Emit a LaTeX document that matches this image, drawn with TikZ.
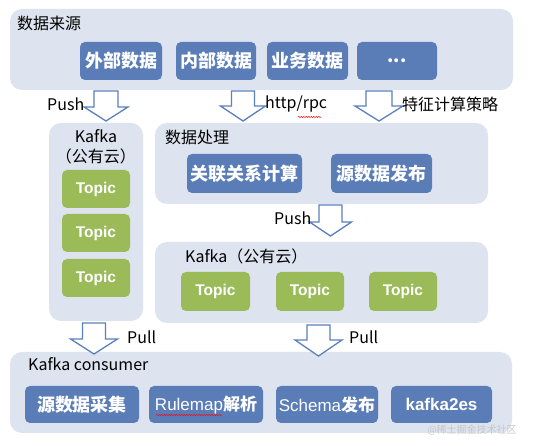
\documentclass[tikz,border=0pt]{standalone}
\usepackage{fontspec}
\setmainfont{Noto Sans CJK SC}
\newfontfamily\arialf{Liberation Sans}
\usetikzlibrary{decorations.pathmorphing}
\definecolor{panelc}{HTML}{DDE3EF}
\definecolor{boxc}{HTML}{5A7DB8}
\definecolor{greenc}{HTML}{9BBB59}
\definecolor{arrc}{HTML}{5B80BD}
\tikzset{
  panel/.style={fill=panelc, rounded corners=12pt, inner sep=0pt},
  bbox/.style={fill=boxc, rounded corners=5pt, inner sep=0pt, text=white, font=\fontsize{18}{18}\selectfont\bfseries},
  lbox/.style={fill=boxc, rounded corners=5pt, inner sep=0pt, text=white, font=\fontsize{17}{17}\selectfont},
  gbox/.style={fill=greenc, rounded corners=5pt, inner sep=0pt, text=white, font=\fontsize{15.5}{15.5}\selectfont\arialf\bfseries},
  lbl/.style={font=\fontsize{16}{16}\selectfont, inner sep=0pt, anchor=west},
  clbl/.style={font=\fontsize{16}{16}\selectfont, inner sep=0pt},
  barrow/.style={draw=arrc, fill=white, line width=1.3pt, line join=miter},
  squig/.style={draw=red, line width=0.5pt, decorate, decoration={snake, amplitude=0.6pt, segment length=2.5pt}}
}
\newcommand\boxnode[7]{\node[#2, minimum width={#5-#3}, minimum height={#6-#4}] (#1) at ({(#3+#5)/2},{(#4+#6)/2}) {#7};}
\newcommand\blockarrow[6]{\draw[barrow] ({#1-#5},#2) -- ({#1-#5},#3) -- ({#1-#6},#3) -- (#1,#4) -- ({#1+#6},#3) -- ({#1+#5},#3) -- ({#1+#5},#2) -- cycle;}
\begin{document}
\begin{tikzpicture}[x=1pt,y=-1pt]
\useasboundingbox (0,0) rectangle (536,446);
\fill[white] (0,0) rectangle (536,446);
% panels
\boxnode{src}{panel}{10}{9}{513}{90}{}
\boxnode{kp1}{panel}{49}{123}{143}{321}{}
\boxnode{proc}{panel}{155}{123}{488}{204}{}
\boxnode{kp2}{panel}{155}{242}{488}{323}{}
\boxnode{cons}{panel}{10}{352}{512}{433}{}
% source
\node[lbl] (srcl) at (17,23) {数据来源};
\boxnode{b1}{bbox}{80}{42}{162}{80}{外部数据}
\boxnode{b2}{bbox}{176}{42}{256}{80}{内部数据}
\boxnode{b3}{bbox}{267}{42}{348}{80}{业务数据}
\boxnode{b4}{bbox}{357}{42}{437}{80}{...}
% left kafka
\node[clbl] (kp1a) at (96,136) {Kafka};
\node[clbl] (kp1b) at (96,156) {（公有云）};
\boxnode{t1}{gbox}{62}{170}{130}{208}{Topic}
\boxnode{t2}{gbox}{62}{214}{130}{252}{Topic}
\boxnode{t3}{gbox}{62}{259}{130}{297}{Topic}
% processing
\node[lbl] (procl) at (165,137) {数据处理};
\boxnode{p1}{bbox}{187}{154}{302}{193}{关联关系计算}
\boxnode{p2}{bbox}{331}{154}{432}{193}{源数据发布}
% kafka 2
\node[lbl] (kp2l) at (185,256) {Kafka（公有云）};
\boxnode{t4}{gbox}{181}{272}{250}{311}{Topic}
\boxnode{t5}{gbox}{276}{272}{344}{311}{Topic}
\boxnode{t6}{gbox}{369}{272}{437}{311}{Topic}
% consumer
\node[lbl] (consl) at (28,364) {Kafka consumer};
\boxnode{c1}{bbox}{25}{386}{139}{423}{源数据采集}
\boxnode{c2}{lbox}{149}{386}{263}{423}{{\arialf Rulemap}{\bfseries 解析}}
\boxnode{c3}{lbox}{276}{386}{378}{423}{{\arialf Schema}{\bfseries 发布}}
\boxnode{c4}{lbox}{391}{386}{492}{423}{{\arialf\bfseries kafka2es}}
% arrows
\blockarrow{106}{91}{107}{121}{12}{22}
\blockarrow{243}{91}{106}{121}{11.5}{22.5}
\blockarrow{379}{91}{106}{121}{13}{24}
\blockarrow{330.5}{205}{222}{236}{11.5}{21}
\blockarrow{94}{323}{339}{354}{11.5}{23.5}
\blockarrow{318.5}{325}{340}{356}{11.5}{23.5}
% arrow labels
\node[lbl] (l1) at (47,104) {Push};
\node[lbl] (l2) at (265,104) {http/rpc};
\node[lbl] (l3) at (402,104) {特征计算策略};
\node[lbl] (l4) at (274,218) {Push};
\node[lbl] (l5) at (127,337) {Pull};
\node[lbl] (l6) at (349,337) {Pull};
% spell-check marks
\draw[squig] (298,117) -- (321,117);
\draw[squig] (156,415) -- (222,415);
% watermark
\node[font=\fontsize{10}{10}\selectfont, text=black!22, inner sep=0pt] (wm) at (472,430) {@稀土掘金技术社区};
\end{tikzpicture}
\end{document}
